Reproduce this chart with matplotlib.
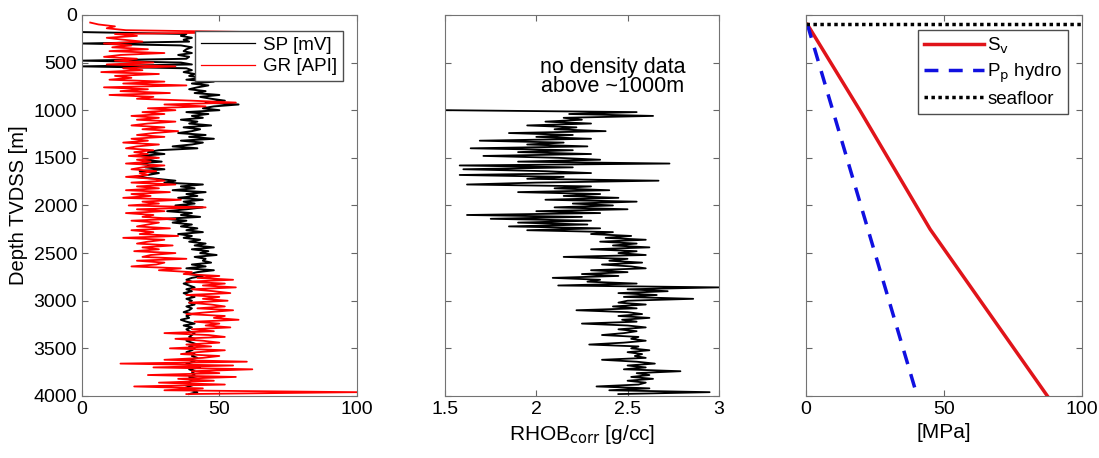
import numpy as np
import matplotlib
matplotlib.use("Agg")
import matplotlib.pyplot as plt

plt.rcParams['font.family'] = ['Liberation Sans', 'DejaVu Sans']

# ---- log data (20 m samples) ----
gr_depth = np.arange(80, 4000, 20)
gr_api = [
    3, 6, 12, 9, 16, 62, 12, 20, 9, 15,
    22, 8, 18, 11, 24, 10, 30, 14, 8, 20,
    12, 26, 9, 34, 15, 22, 7, 28, 12, 18,
    10, 30, 15, 38, 8, 24, 14, 32, 10, 26,
    20, 40, 56, 30, 45, 24, 34, 22, 30, 18,
    28, 20, 34, 24, 18, 30, 22, 35, 26, 20,
    30, 18, 24, 15, 28, 20, 16, 26, 19, 24,
    17, 28, 20, 25, 16, 30, 22, 18, 27, 21,
    24, 16, 26, 30, 18, 34, 20, 28, 16, 32,
    18, 25, 15, 36, 22, 28, 17, 45, 20, 30,
    16, 26, 22, 34, 18, 28, 24, 20, 32, 18,
    26, 21, 35, 15, 30, 24, 20, 33, 22, 28,
    19, 34, 25, 22, 38, 20, 30, 27, 18, 36,
    28, 40, 37, 50, 42, 55, 38, 52, 44, 56,
    40, 48, 54, 38, 50, 44, 53, 39, 47, 52,
    42, 55, 46, 38, 52, 48, 57, 41, 50, 45,
    54, 40, 48, 30, 46, 52, 34, 44, 50, 38,
    47, 32, 52, 42, 36, 50, 44, 30, 60, 14,
    55, 26, 62, 40, 50, 24, 56, 35, 48, 28,
    52, 19, 44, 30, 100, 38,
]

sp_depth = np.arange(180, 4000, 20)
sp_mv = [
    0, 38, 36, 40, 37, 39, 0, 36, 40, 38,
    37, 40, 35, 39, 38, 0, 36, 40, 0, 38,
    40, 37, 41, 39, 44, 38, 48, 40, 46, 42,
    39, 45, 41, 50, 43, 47, 52, 45, 57, 48,
    44, 50, 38, 46, 40, 44, 36, 42, 39, 47,
    37, 43, 40, 35, 45, 39, 48, 36, 44, 40,
    33, 42, 28, 24, 30, 21, 27, 22, 29, 20,
    26, 23, 30, 21, 28, 24, 19, 27, 34, 30,
    44, 36, 41, 33, 45, 38, 42, 35, 44, 37,
    41, 34, 44, 38, 31, 40, 36, 43, 30, 38,
    33, 40, 36, 42, 38, 44, 35, 40, 37, 43,
    39, 45, 41, 48, 40, 46, 43, 49, 41, 45,
    44, 47, 40, 45, 38, 48, 42, 39, 44, 40,
    38, 40, 37, 39, 41, 38, 40, 37, 39, 41,
    38, 40, 39, 41, 38, 40, 39, 37, 40, 38,
    39, 36, 38, 41, 37, 40, 38, 39, 41, 40,
    39, 41, 38, 40, 42, 39, 41, 40, 38, 41,
    40, 42, 39, 41, 38, 40, 43, 39, 41, 40,
    41, 39, 42, 40, 38, 41, 39, 37, 40, 42,
    39,
]

rhob_depth = np.arange(1000, 4000, 20)
rhob = [
    1.51, 2.55, 2.18, 2.64, 2.15, 2.25, 2.05, 2.3, 1.95, 2.22,
    2.1, 2.38, 1.85, 2.2, 2.0, 2.3, 1.69, 2.15, 1.95, 2.28,
    1.64, 2.2, 1.9, 2.3, 1.71, 2.12, 2.35, 1.9, 2.73, 1.58,
    2.2, 1.6, 2.05, 2.3, 1.58, 2.15, 1.95, 2.67, 2.0, 1.62,
    2.3, 2.1, 2.4, 1.9, 2.35, 2.15, 2.45, 2.05, 2.55, 2.2,
    2.42, 2.1, 2.5, 2.0, 2.35, 1.62, 2.25, 1.75, 2.3, 1.9,
    2.28, 1.85, 2.35, 1.95, 2.42, 2.3, 2.52, 2.38, 2.6, 2.35,
    2.55, 2.42, 2.62, 2.3, 2.55, 2.45, 2.6, 2.15, 2.5, 2.4,
    2.58, 2.36, 2.52, 2.6, 2.3, 2.5, 2.25, 2.45, 2.09, 2.35,
    2.28, 2.55, 2.12, 3.0, 2.5, 2.72, 2.45, 2.66, 2.48, 2.86,
    2.5, 2.45, 2.6, 2.42, 2.55, 2.22, 2.5, 2.58, 2.45, 2.62,
    2.47, 2.55, 2.25, 2.5, 2.6, 2.45, 2.55, 2.48, 2.36, 2.56,
    2.52, 2.6, 2.48, 2.29, 2.56, 2.52, 2.62, 2.5, 2.58, 2.54,
    2.6, 2.36, 2.55, 2.65, 2.5, 2.6, 2.48, 2.79, 2.55, 2.62,
    2.52, 2.64, 2.5, 2.6, 2.56, 2.33, 2.62, 2.4, 2.95, 2.45,
]

# ---- stress profiles ----
sv_depth = [100, 1000, 2250, 4000]
sv_mpa = [0.5, 19.5, 45, 87.5]
pp_depth = [100, 4000]
pp_mpa = [0.5, 40.3]
seafloor = 100

fig = plt.figure(figsize=(10.99, 4.58), dpi=100)
ax1 = fig.add_axes([0.0746, 0.1354, 0.250, 0.832])
ax2 = fig.add_axes([0.405, 0.1354, 0.249, 0.832])
ax3 = fig.add_axes([0.7334, 0.1354, 0.251, 0.832])

# panel 1: SP + GR
ax1.plot(sp_mv, sp_depth, color='black', lw=1.4, label='SP [mV]')
ax1.plot(gr_api, gr_depth, color='red', lw=1.3, label='GR [API]')
ax1.set_xlim(0, 100)
ax1.set_xticks([0, 50, 100])
ax1.set_ylabel('Depth TVDSS [m]', fontsize=14.5)
leg1 = ax1.legend(loc='upper right', bbox_to_anchor=(0.949, 0.958), borderaxespad=0,
                  handlelength=2.9, handletextpad=0.4, fancybox=False, edgecolor='0.3',
                  framealpha=1, fontsize=13.5, borderpad=0.3, labelspacing=0.25)
for h in leg1.get_lines():
    h.set_linewidth(0.9)

# panel 2: density
ax2.plot(rhob, rhob_depth, color='black', lw=1.3)
ax2.set_xlim(1.5, 3)
ax2.set_xticks([1.5, 2, 2.5, 3])
ax2.set_xticklabels(['1.5', '2', '2.5', '3'])
ax2.set_xlabel('RHOB$_{\\mathrm{corr}}$ [g/cc]', fontsize=15)
ax2.text(2.42, 650, 'no density data\nabove ~1000m', ha='center', va='center',
         fontsize=15.5, linespacing=0.85)

# panel 3: Sv and hydrostatic pore pressure
ax3.plot(sv_mpa, sv_depth, color='#e0141a', lw=2.5, label='S$_\\mathrm{v}$')
ax3.plot(pp_mpa, pp_depth, color='#1010e0', lw=2.5, ls=(0, (4, 3)), label='P$_\\mathrm{p}$ hydro')
ax3.axhline(seafloor, color='black', lw=2.5, ls=(0, (1, 1)), label='seafloor')
ax3.set_xlim(0, 100)
ax3.set_xticks([0, 50, 100])
ax3.set_xlabel('[MPa]', fontsize=15)
ax3.legend(loc='upper right', bbox_to_anchor=(0.949, 0.96), borderaxespad=0,
           handlelength=3.2, fancybox=False, edgecolor='0.3', framealpha=1, fontsize=13.5,
           borderpad=0.3, labelspacing=0.3, handletextpad=0.2)

for ax in (ax1, ax2, ax3):
    ax.set_ylim(4000, 0)
    ax.set_yticks(np.arange(0, 4001, 500))
    ax.tick_params(direction='in', top=True, right=True, labelsize=14,
                   color='0.4', length=4)
    for s in ax.spines.values():
        s.set_color('0.45')
ax2.set_yticklabels([])
ax3.set_yticklabels([])

fig.savefig('out.png', dpi=100)
